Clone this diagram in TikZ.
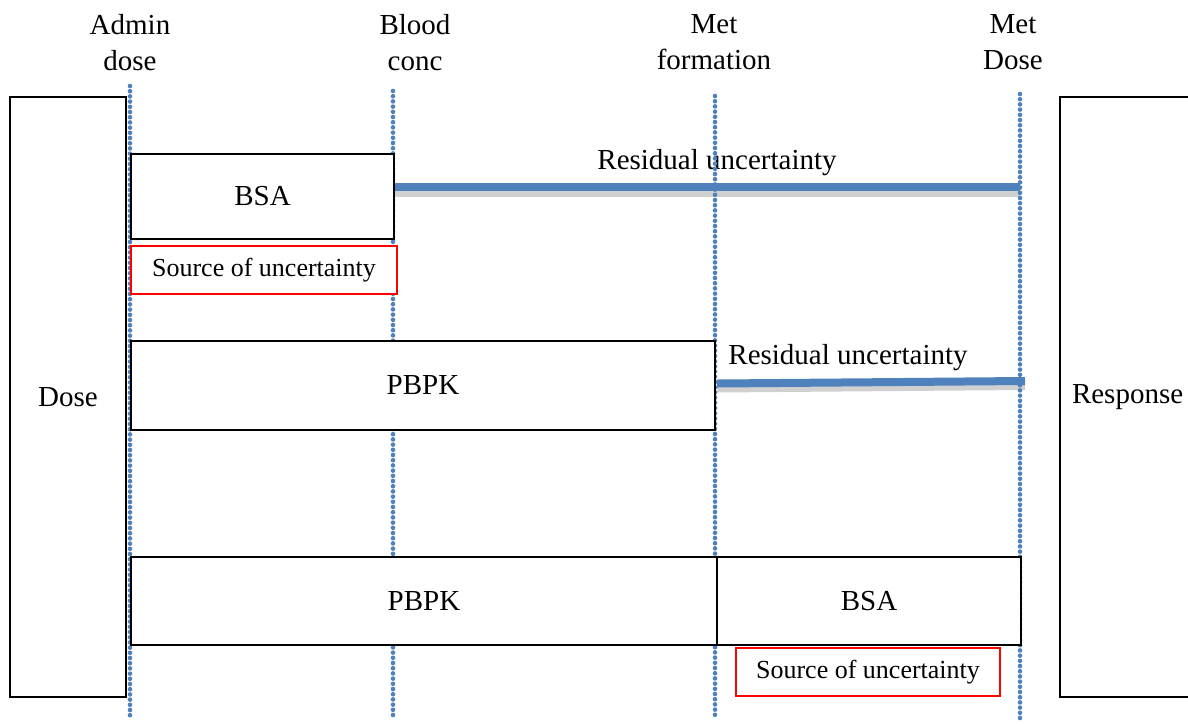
\documentclass[tikz,border=0pt]{standalone}
\usepackage{fontspec}
\setmainfont{Liberation Serif}
\definecolor{dotblue}{HTML}{4F81BD}
\definecolor{shadowgray}{HTML}{D0D0D0}
\definecolor{srcred}{HTML}{FF0000}
\begin{document}
\begin{tikzpicture}[x=1pt,y=-1pt,
  big/.style={font=\fontsize{29}{36}\selectfont},
  small/.style={font=\fontsize{26}{30}\selectfont},
  stagebox/.style={draw=black,fill=white,line width=2pt,inner sep=0pt,big},
  srcbox/.style={draw=srcred,fill=white,line width=2pt,inner sep=0pt,small},
  axisline/.style={draw=dotblue,line width=4.6pt,line cap=round,dash pattern=on 0pt off 5.2pt},
  residline/.style={draw=dotblue,line width=8pt},
  residshadow/.style={draw=shadowgray,line width=6pt},
  header/.style={big,align=center,inner sep=0pt,anchor=north}]
\useasboundingbox (0,0) rectangle (1188,724);
\begin{scope}
\clip (0,0) rectangle (1188,724);
% axis end points
\coordinate (a1t) at (130,86);  \coordinate (a1b) at (130,716);
\coordinate (a2t) at (393,91);  \coordinate (a2b) at (393,719);
\coordinate (a3t) at (715,96);  \coordinate (a3b) at (715,719);
\coordinate (a4t) at (1020,94); \coordinate (a4b) at (1020,719);
% residual uncertainty bars and labels (behind axes)
\coordinate (r1start) at (394,187);
\coordinate (r1end) at (1020,187);
\draw[residshadow] ([shift={(0,7)}]r1start) -- ([shift={(0,7)}]r1end);
\draw[residline] (r1start) -- (r1end);
\node[big,inner sep=0pt] (res1) at (717,163) {Residual uncertainty};
\coordinate (r2start) at (717,383.5);
\coordinate (r2end) at (1025,381);
\draw[residshadow] ([shift={(0,6)}]r2start) -- ([shift={(0,6)}]r2end);
\draw[residline] (r2start) -- (r2end);
\node[big,inner sep=0pt] (res2) at (848,358) {Residual uncertainty};
% vertical dotted axes
\draw[axisline] (a1t) -- (a1b);
\draw[axisline] (a2t) -- (a2b);
\draw[axisline] (a3t) -- (a3b);
\draw[axisline] (a4t) -- (a4b);
% headers
\node[header] (h1) at (130,14) {Admin\\dose};
\node[header] (h2) at (415,14) {Blood\\conc};
\node[header] (h3) at (714,14) {Met\\formation};
\node[header] (h4) at (1013,14) {Met\\Dose};
% side boxes
\node[stagebox,minimum width=116pt,minimum height=600pt] (dose) at (68,397) {Dose};
\node[stagebox,minimum width=160pt,minimum height=600pt,text width=136pt,align=left] (resp) at (1140,397) {Response};
% row 1
\node[stagebox,minimum width=263pt,minimum height=85pt] (bsa1) at (262.5,196.5) {BSA};
\node[srcbox,minimum width=266pt,minimum height=48pt] (src1) at (264,270) {Source of uncertainty};
% row 2
\node[stagebox,minimum width=584pt,minimum height=89pt] (pbpk1) at (423,385.5) {PBPK};
% row 3
\node[stagebox,minimum width=586pt,minimum height=88pt] (pbpk2) at (424,601) {PBPK};
\node[stagebox,minimum width=304pt,minimum height=88pt] (bsa2) at (869,601) {BSA};
\node[srcbox,minimum width=264pt,minimum height=48pt] (src2) at (868,672) {Source of uncertainty};
\end{scope}
\end{tikzpicture}
\end{document}
